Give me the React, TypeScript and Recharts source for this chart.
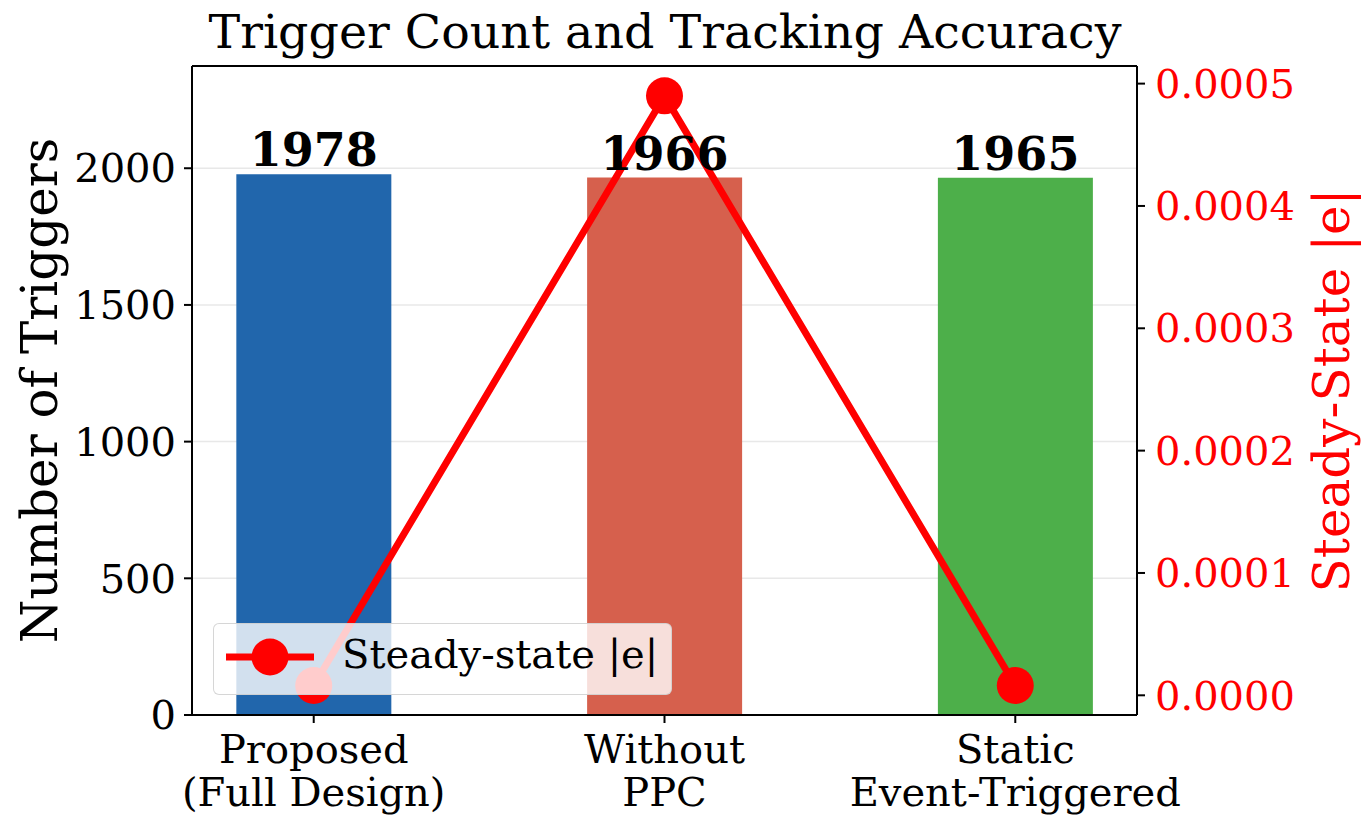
import React from "react";
import {
  ComposedChart, Bar, Line, XAxis, YAxis, CartesianGrid, Cell,
  LabelList, ReferenceLine,
} from "recharts";

const categories = ["Proposed\n(Full Design)", "Without\nPPC", "Static\nEvent-Triggered"];
const triggerCounts = [1978, 1966, 1965];
const steadyStateErr = [0.000008, 0.00049, 0.000008];
const barColors = ["#2166ac", "#d6604d", "#4daf4a"];
const leftTicks = [0, 500, 1000, 1500, 2000];
const rightTicks = [0, 0.0001, 0.0002, 0.0003, 0.0004, 0.0005];

const W = 1368;
const H = 831;
const FONT = "'DejaVu Serif', serif";
const LEFT_TOP = 2374;

const data = categories.map((name, i) => ({
  x: i,
  name,
  count: triggerCounts[i],
  err: steadyStateErr[i],
}));

const XTick = (props: any) => {
  const { x, y, payload } = props;
  const lines = categories[payload.value].split("\n");
  return (
    <text x={x} y={y} textAnchor="middle" fontFamily={FONT} fontSize={40} fill="#000">
      {lines.map((l, i) => (
        <tspan key={i} x={x} dy={i === 0 ? 34 : 43}>{l}</tspan>
      ))}
    </text>
  );
};

export default function App() {
  return (
    <div style={{ position: "absolute", left: 0, top: 0, width: W, height: H, background: "#fff" }}>
      <div style={{
        position: "absolute", left: 0, top: 4, width: 1330, textAlign: "center",
        fontFamily: FONT, fontSize: 47.5, color: "#000",
      }}>
        Trigger Count and Tracking Accuracy
      </div>
      <ComposedChart width={W} height={H} data={data} margin={{ top: 66, right: 0, bottom: 0, left: 0 }}>
        <CartesianGrid yAxisId="left" vertical={false} stroke="#e8e8e8" strokeWidth={1.5} />
        <XAxis
          dataKey="x"
          type="number"
          domain={[-0.347, 2.347]}
          ticks={[0, 1, 2]}
          tick={<XTick />}
          height={116}
          tickSize={8}
          tickMargin={6}
          axisLine={{ stroke: "#000", strokeWidth: 2 }}
          tickLine={{ stroke: "#000", strokeWidth: 2 }}
          allowDataOverflow
        />
        <YAxis
          yAxisId="left"
          orientation="left"
          width={192}
          domain={[0, LEFT_TOP]}
          ticks={leftTicks}
          tick={{ fontFamily: FONT, fontSize: 40, fill: "#000" }}
          tickSize={8}
          tickMargin={8}
          axisLine={{ stroke: "#000", strokeWidth: 2 }}
          tickLine={{ stroke: "#000", strokeWidth: 2 }}
          allowDataOverflow
          label={{
            value: "Number of Triggers", angle: -90, position: "center", dx: -57,
            style: { fontFamily: FONT, fontSize: 50, fill: "#000", textAnchor: "middle" },
          }}
        />
        <YAxis
          yAxisId="right"
          orientation="right"
          width={231}
          domain={[-0.0000161, 0.0005144]}
          ticks={rightTicks}
          tickFormatter={(v: number) => v.toFixed(4)}
          tick={{ fontFamily: FONT, fontSize: 40, fill: "#ff0000" }}
          tickSize={8}
          tickMargin={10}
          axisLine={{ stroke: "#000", strokeWidth: 2 }}
          tickLine={{ stroke: "#000", strokeWidth: 2 }}
          allowDataOverflow
          label={{
            value: "Steady-State |e|", angle: -90, position: "center", dx: 79,
            style: { fontFamily: FONT, fontSize: 50, fill: "#ff0000", textAnchor: "middle" },
          }}
        />
        <ReferenceLine yAxisId="left" y={LEFT_TOP} stroke="#000" strokeWidth={2} />
        <Bar yAxisId="left" dataKey="count" barSize={155} isAnimationActive={false}>
          {data.map((d, i) => (
            <Cell key={i} fill={barColors[i]} />
          ))}
          <LabelList
            dataKey="count"
            position="top"
            offset={8}
            style={{ fontFamily: FONT, fontSize: 46, fontWeight: "bold", fill: "#000" }}
          />
        </Bar>
        <Line
          yAxisId="right"
          dataKey="err"
          stroke="#ff0000"
          strokeWidth={7}
          dot={{ r: 18.5, fill: "#ff0000", stroke: "none" }}
          activeDot={false}
          isAnimationActive={false}
        />
      </ComposedChart>
      <div style={{
        position: "absolute", left: 213, top: 623, width: 459, height: 72,
        background: "rgba(255,255,255,0.8)", border: "1.5px solid rgba(204,204,204,0.8)",
        borderRadius: 6, boxSizing: "border-box",
      }}>
        <svg width={100} height={72} style={{ position: "absolute", left: 10, top: 0 }}>
          <line x1={2} y1={33} x2={90} y2={33} stroke="#ff0000" strokeWidth={7} />
          <circle cx={46} cy={33} r={18.5} fill="#ff0000" />
        </svg>
        <div style={{
          position: "absolute", left: 128, top: 7, fontFamily: FONT, fontSize: 40,
          color: "#000", whiteSpace: "nowrap",
        }}>
          Steady-state |e|
        </div>
      </div>
    </div>
  );
}
